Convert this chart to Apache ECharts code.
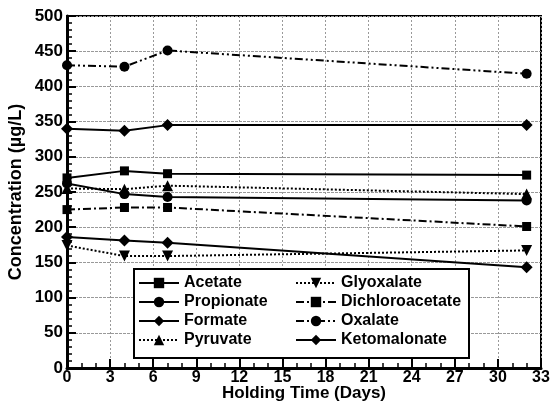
<!DOCTYPE html>
<html>
<head>
<meta charset="utf-8">
<script src="https://cdn.jsdelivr.net/npm/echarts@6/dist/echarts.min.js"></script>
<style>
  html, body { margin: 0; padding: 0; background: #fff; }
  #chart { width: 551px; height: 407px; }
</style>
</head>
<body>
<div id="chart"></div>
<script>
var days = [0, 4, 7, 32];

var acetate = [270, 280, 276, 274];
var propionate = [262, 247, 243, 238];
var formate = [186, 181, 178, 143];
var pyruvate = [255, 254, 259, 247];
var glyoxalate = [174, 159, 159, 167];
var dichloroacetate = [225, 228, 228, 201];
var oxalate = [430, 428, 451, 418];
var ketomalonate = [340, 337, 345, 345];

var names = ["Acetate", "Propionate", "Formate", "Pyruvate",
             "Glyoxalate", "Dichloroacetate", "Oxalate", "Ketomalonate"];
var values = [acetate, propionate, formate, pyruvate,
              glyoxalate, dichloroacetate, oxalate, ketomalonate];

var xTicks = [0, 3, 6, 9, 12, 15, 18, 21, 24, 27, 30, 33];

// line/marker look for each series
var looks = [
    { symbol: 'rect', size: 9, dash: 'solid' },
    { symbol: 'circle', size: 10, dash: 'solid' },
    { symbol: 'diamond', size: 12, dash: 'solid' },
    { symbol: 'triangle', size: 11, dash: [2, 2] },
    { symbol: 'triangle', size: 11, dash: [2, 2], rotate: 180 },
    { symbol: 'rect', size: 9, dash: [8, 3, 2, 3] },
    { symbol: 'circle', size: 10, dash: [8, 3, 2, 3, 2, 3] },
    { symbol: 'diamond', size: 12, dash: 'solid' }
];

var series = names.map(function(name, i) {
    return {
        name: name,
        type: 'line',
        data: days.map(function(d, j) { return [d, values[i][j]]; }),
        symbol: looks[i].symbol,
        symbolSize: looks[i].size,
        symbolRotate: looks[i].rotate || 0,
        lineStyle: { color: '#000', width: 2, type: looks[i].dash },
        itemStyle: { color: '#000' },
        z: 3
    };
});

var font = 'Liberation Sans, Arial, sans-serif';
var legendText = { fontFamily: font, fontWeight: 'bold', fontSize: 16, lineHeight: 16, color: '#000' };

var myChart = echarts.init(document.getElementById('chart'));

function legendAt(list, left) {
    return {
        data: list,
        orient: 'vertical',
        left: left, top: 275,
        padding: 0,
        itemWidth: 40, itemHeight: 13, itemGap: 3,
        lineStyle: { width: 2 },
        textStyle: legendText,
        z: 11
    };
}

var option = {
    animation: false,
    backgroundColor: '#fff',
    grid: {
        left: 67, right: 10, top: 16, bottom: 39,
        outerBoundsMode: 'none',
        containLabel: false,
        show: true, borderColor: '#000', borderWidth: 2
    },
    xAxis: {
        type: 'value',
        min: 0, max: 33, interval: 3,
        name: 'Holding Time (Days)',
        nameLocation: 'middle',
        nameGap: 17,
        nameMoveOverlap: false,
        nameTextStyle: { fontFamily: font, fontWeight: 'bold', fontSize: 17, color: '#000' },
        axisLine: { lineStyle: { color: '#000', width: 3 } },
        axisTick: { inside: true, length: 9, lineStyle: { color: '#000', width: 2 } },
        minorTick: { show: true, splitNumber: 3, length: 5, lineStyle: { color: '#000', width: 1.5 } },
        axisLabel: {
            margin: 2, fontFamily: font, fontWeight: 'bold', fontSize: 16, color: '#000',
            formatter: function(v) { return xTicks.indexOf(v) >= 0 ? String(v) : ''; }
        },
        splitLine: { show: true, lineStyle: { color: '#999', width: 1, type: [2, 2] } }
    },
    yAxis: {
        type: 'value',
        min: 0, max: 500, interval: 50,
        name: 'Concentration (µg/L)',
        nameLocation: 'middle',
        nameGap: 42,
        nameMoveOverlap: false,
        nameTextStyle: { fontFamily: font, fontWeight: 'bold', fontSize: 18, color: '#000' },
        axisLine: { show: true, lineStyle: { color: '#000', width: 3 } },
        axisTick: { inside: true, length: 9, lineStyle: { color: '#000', width: 2 } },
        minorTick: { show: true, splitNumber: 5, length: 5, lineStyle: { color: '#000', width: 1.5 } },
        axisLabel: { margin: 4, fontFamily: font, fontWeight: 'bold', fontSize: 17, color: '#000' },
        splitLine: { show: true, lineStyle: { color: '#999', width: 1, type: [3, 1] } }
    },
    graphic: [{
        type: 'rect',
        shape: { x: 134, y: 269, width: 335, height: 89 },
        style: { fill: '#fff', stroke: '#000', lineWidth: 2 },
        z: 10
    }],
    legend: [legendAt(names.slice(0, 4), 138), legendAt(names.slice(4), 295)],
    series: series
};

myChart.setOption(option);
</script>
</body>
</html>
